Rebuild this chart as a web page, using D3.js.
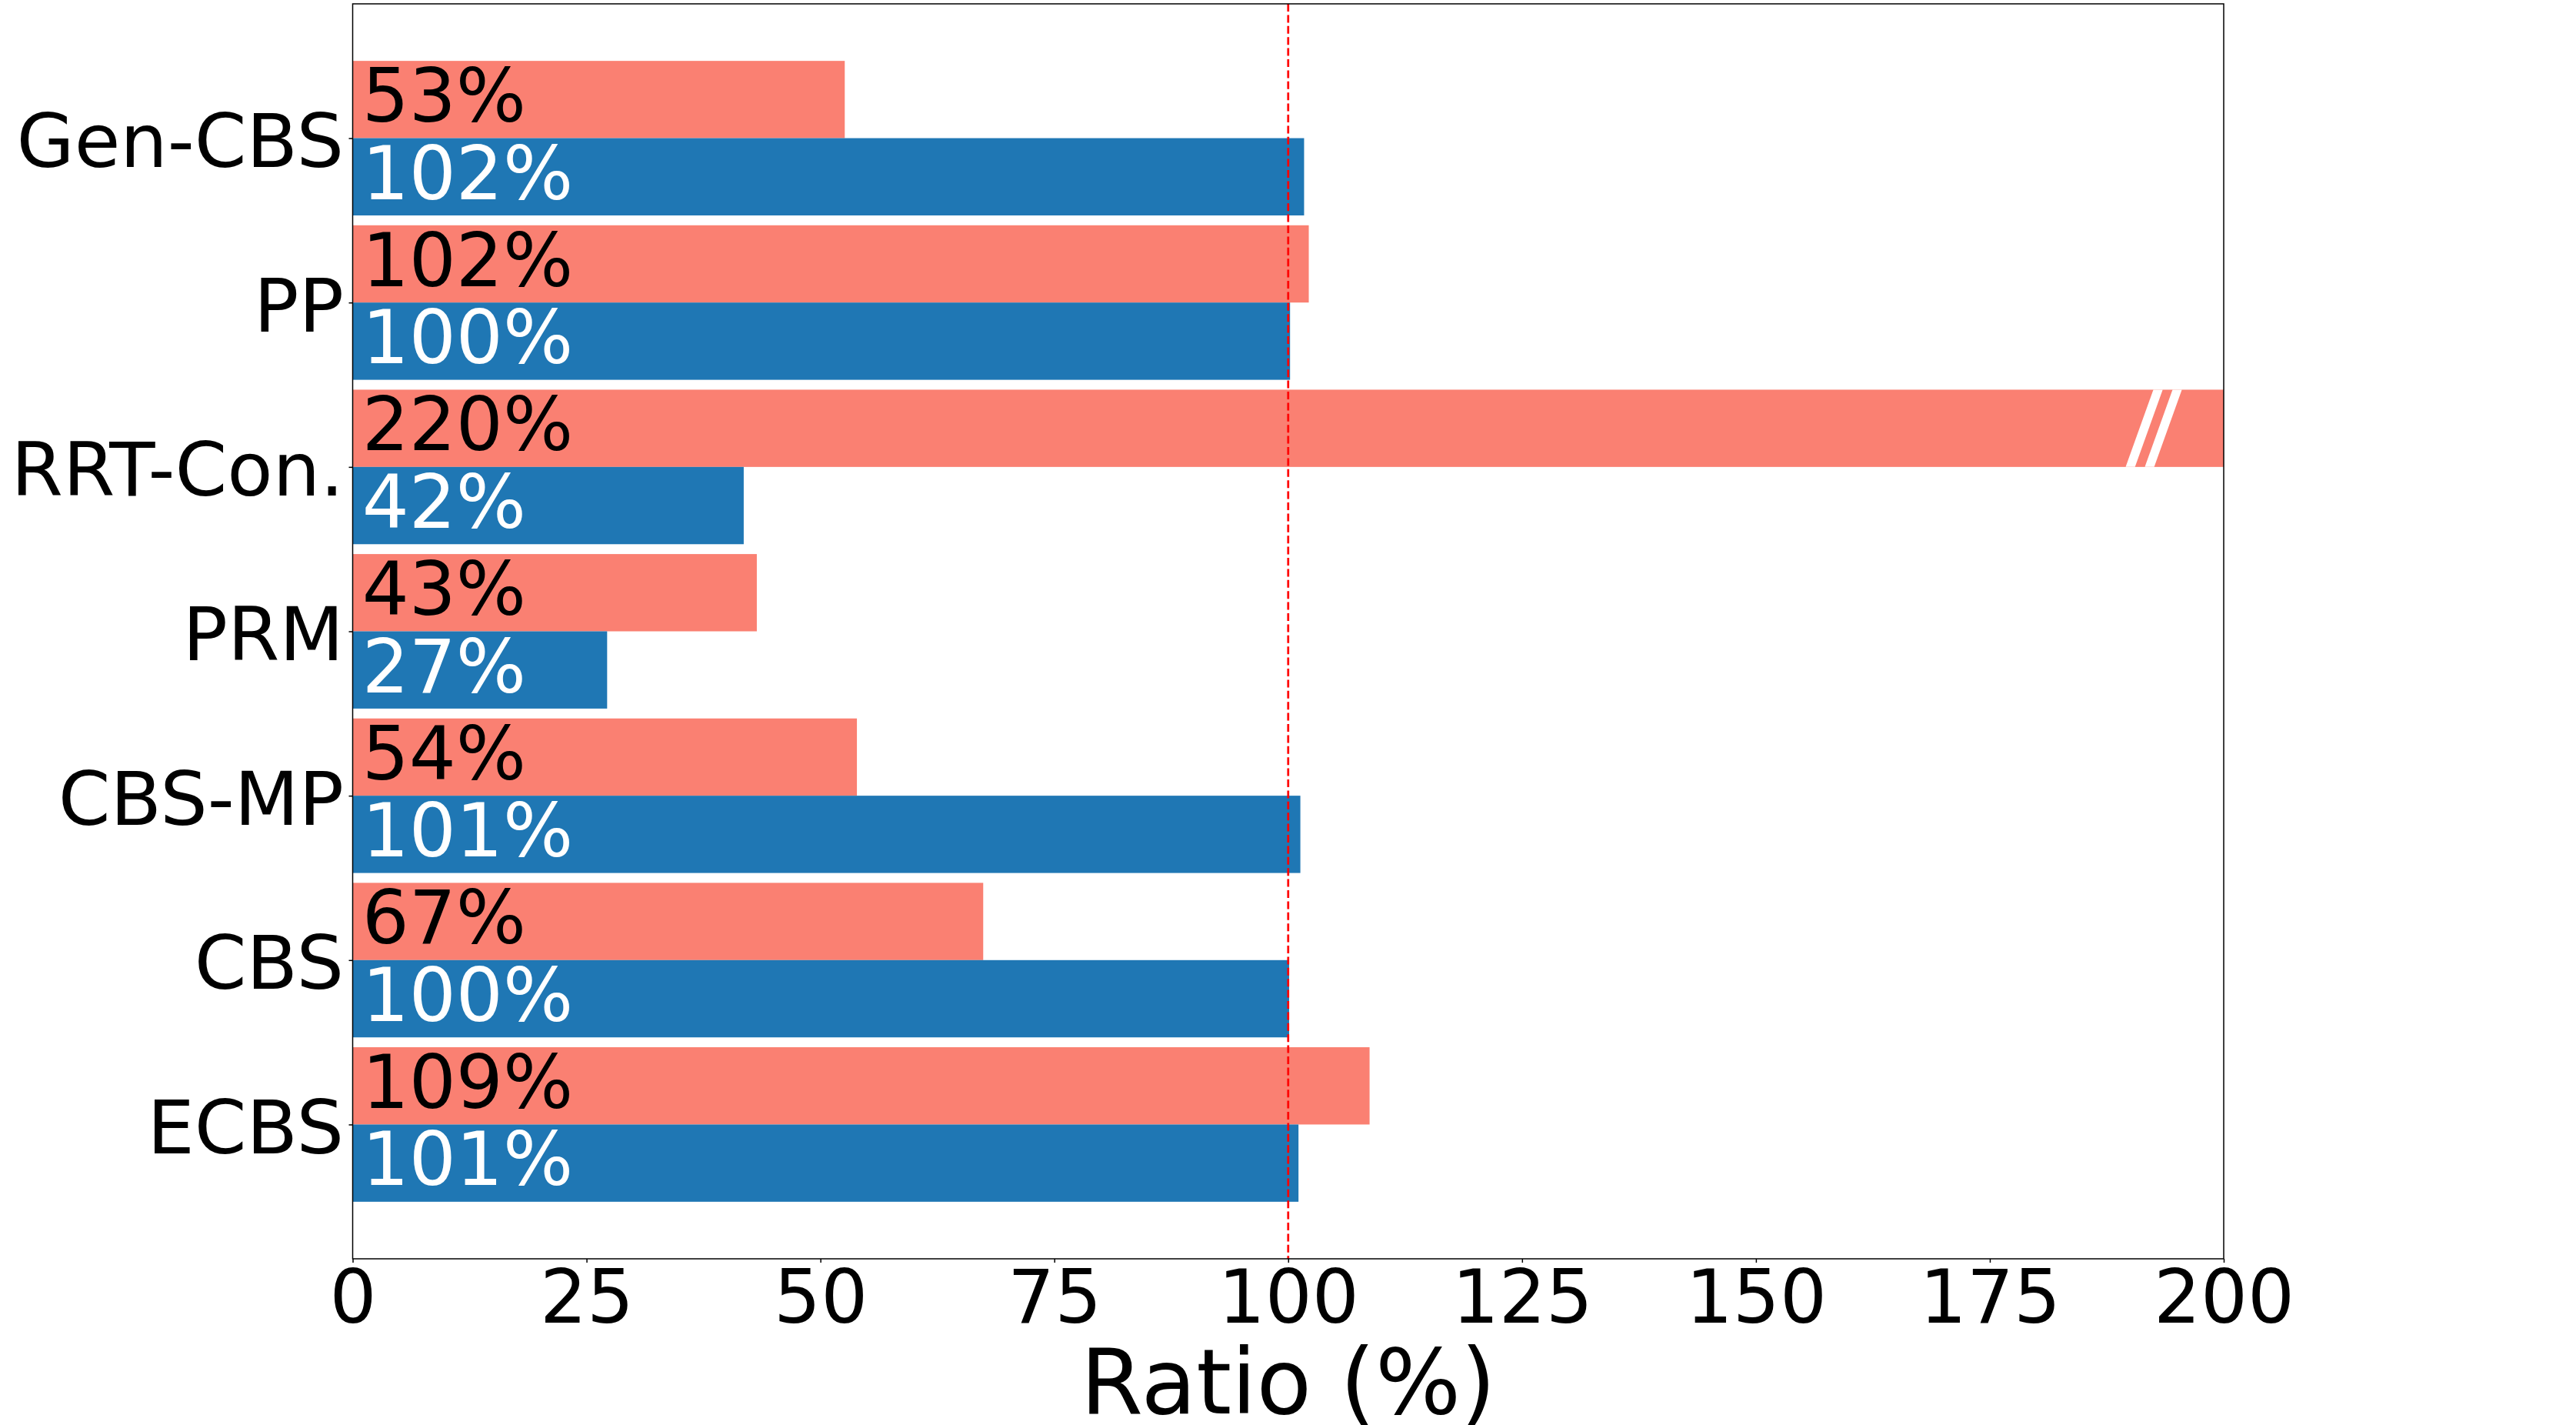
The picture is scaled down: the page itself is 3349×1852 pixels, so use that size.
<!DOCTYPE html>
<html>
<head>
<meta charset="utf-8">
<script src="https://cdn.jsdelivr.net/npm/d3@7"></script>
<style>
  html, body { margin: 0; padding: 0; background: #fff; }
  svg { display: block; font-family: "DejaVu Sans", sans-serif; }
</style>
</head>
<body>
<div id="chart"></div>
<script>
// categories, top to bottom as shown
const categories   = ["Gen-CBS", "PP", "RRT-Con.", "PRM", "CBS-MP", "CBS", "ECBS"];
// blue series (lower bar in each group)
const blueValues   = [101.7, 100.2, 41.8, 27.2, 101.3, 100.1, 101.1];
// salmon series (upper bar in each group)
const salmonValues = [52.6, 102.2, 220, 43.2, 53.9, 67.4, 108.7];
const xTicks       = [0, 25, 50, 75, 100, 125, 150, 175, 200];
const refLine      = 100;
const breakAt      = [191.5, 193.55];   // "//" marks on the clipped bar

const W = 3349, H = 1852;
const pLeft = 458.5, pRight = 2891, pTop = 5, pBottom = 1636;
const barH = 0.47;
const n = categories.length;

const x = d3.scaleLinear().domain([0, 200]).range([pLeft, pRight]);
// matplotlib style 5% margin around the bar extents
const pad = (n - 1 + 2 * barH) * 0.05;
const y = d3.scaleLinear().domain([-barH - pad, n - 1 + barH + pad]).range([pBottom, pTop]);
const pos = i => n - 1 - i;

const svg = d3.select("#chart").append("svg")
  .attr("width", W).attr("height", H);
svg.append("rect").attr("width", W).attr("height", H).attr("fill", "#fff");

svg.append("clipPath").attr("id", "plot")
  .append("rect")
    .attr("x", pLeft).attr("y", pTop)
    .attr("width", pRight - pLeft).attr("height", pBottom - pTop);

const plot = svg.append("g").attr("clip-path", "url(#plot)");

// salmon bars (above the tick)
plot.selectAll("rect.salmon").data(salmonValues).join("rect")
  .attr("class", "salmon")
  .attr("x", x(0))
  .attr("y", (d, i) => y(pos(i) + barH))
  .attr("width", d => x(d) - x(0))
  .attr("height", y(0) - y(barH))
  .attr("fill", "#fa8072");

// blue bars (below the tick)
plot.selectAll("rect.blue").data(blueValues).join("rect")
  .attr("class", "blue")
  .attr("x", x(0))
  .attr("y", (d, i) => y(pos(i)))
  .attr("width", d => x(d) - x(0))
  .attr("height", y(0) - y(barH))
  .attr("fill", "#1f77b4");

// break marks on bars that overflow the axis
salmonValues.forEach((v, i) => {
  if (v <= 200) return;
  const y0 = y(pos(i)), y1 = y(pos(i) + barH);
  breakAt.forEach(c => {
    const s = 1.48, w = 0.5;
    const pts = [
      [x(c - s - w), y0], [x(c - s + w), y0],
      [x(c + s + w), y1], [x(c + s - w), y1]
    ];
    plot.append("polygon")
      .attr("points", pts.map(p => p.join(",")).join(" "))
      .attr("fill", "#fff");
  });
});

// value labels inside bars
const fs = 96;
svg.selectAll("text.slab").data(salmonValues).join("text")
  .attr("class", "slab")
  .attr("x", x(1))
  .attr("y", (d, i) => y(pos(i) + barH / 2) + 0.3 * fs)
  .attr("font-size", fs)
  .attr("fill", "#000")
  .text(d => Math.round(d) + "%");

svg.selectAll("text.blab").data(blueValues).join("text")
  .attr("class", "blab")
  .attr("x", x(1))
  .attr("y", (d, i) => y(pos(i) - barH / 2) + 0.3 * fs)
  .attr("font-size", fs)
  .attr("fill", "#fff")
  .text(d => Math.round(d) + "%");

// reference line at 100%
svg.append("line")
  .attr("x1", x(refLine)).attr("x2", x(refLine))
  .attr("y1", pTop).attr("y2", pBottom)
  .attr("stroke", "#ff0000")
  .attr("stroke-width", 2.7)
  .attr("stroke-dasharray", "10,4.4");

// frame
svg.append("rect")
  .attr("x", pLeft).attr("y", pTop)
  .attr("width", pRight - pLeft).attr("height", pBottom - pTop)
  .attr("fill", "none").attr("stroke", "#000").attr("stroke-width", 1.5);

// y axis
const yAxis = svg.append("g")
  .attr("transform", `translate(${pLeft},0)`)
  .call(d3.axisLeft(y)
    .tickValues(categories.map((c, i) => pos(i)))
    .tickFormat(p => categories[n - 1 - p])
    .tickSize(5).tickSizeOuter(0).tickPadding(6.5));
yAxis.select(".domain").remove();
yAxis.selectAll(".tick line").attr("stroke", "#000").attr("stroke-width", 1.5);
yAxis.selectAll(".tick text")
  .attr("font-size", 97).attr("font-family", "DejaVu Sans")
  .attr("fill", "#000").attr("dy", "0.38em");

// x axis
const xAxis = svg.append("g")
  .attr("transform", `translate(0,${pBottom})`)
  .call(d3.axisBottom(x).tickValues(xTicks).tickSize(5).tickSizeOuter(0));
xAxis.select(".domain").remove();
xAxis.selectAll(".tick line").attr("stroke", "#000").attr("stroke-width", 1.5);
xAxis.selectAll(".tick text")
  .attr("font-size", 96).attr("font-family", "DejaVu Sans")
  .attr("fill", "#000").attr("y", 83).attr("dy", 0);

// axis title
svg.append("text")
  .attr("x", (pLeft + pRight) / 2)
  .attr("y", 1837)
  .attr("text-anchor", "middle")
  .attr("font-size", 117)
  .attr("fill", "#000")
  .text("Ratio (%)");
</script>
</body>
</html>
